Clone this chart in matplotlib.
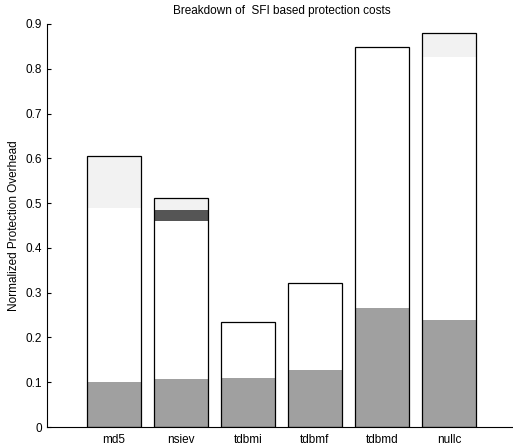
import numpy as np
import matplotlib.pyplot as plt

plt.rcParams['font.family'] = ['Liberation Sans', 'DejaVu Sans']

# per-benchmark cost components (normalized), stacked bottom to top
benchmarks = ['md5', 'nsiev', 'tdbmi', 'tdbmf', 'tdbmd', 'nullc']
base_cost = [0.101, 0.107, 0.110, 0.128, 0.265, 0.240]
check_cost = [0.388, 0.352, 0.125, 0.193, 0.583, 0.587]
guard_cost = [0.0, 0.026, 0.0, 0.0, 0.0, 0.0]
extra_cost = [0.116, 0.026, 0.0, 0.0, 0.0, 0.052]

x = np.arange(1, len(benchmarks) + 1)
width = 0.8

fig = plt.figure(figsize=(5.13, 4.48), dpi=100)
ax = fig.add_axes([47 / 513, 21 / 448, 469 / 513, 403 / 448])

bottom = np.zeros(len(benchmarks))
for vals, col in [(base_cost, '#a0a0a0'), (check_cost, '#ffffff'),
                  (guard_cost, '#555555'), (extra_cost, '#f2f2f2')]:
    vals = np.array(vals)
    ax.bar(x, vals, width, bottom=bottom, color=col, edgecolor='none', zorder=2)
    bottom += vals

# outline around each full bar
ax.bar(x, bottom, width, fill=False, edgecolor='black', linewidth=0.9, zorder=3)

ax.set_xlim(0, 7)
ax.set_ylim(0, 0.9)
ax.set_yticks(np.arange(0, 0.91, 0.1))
ax.set_yticklabels(['0', '0.1', '0.2', '0.3', '0.4', '0.5', '0.6', '0.7', '0.8', '0.9'])
ax.set_xticks(x)
ax.set_xticklabels(benchmarks)
ax.tick_params(axis='both', direction='in', labelsize=8.5, length=3, width=0.8)
ax.tick_params(axis='x', length=0, pad=5)
ax.spines['top'].set_visible(False)
ax.spines['right'].set_visible(False)
ax.spines['left'].set_linewidth(0.8)
ax.spines['bottom'].set_linewidth(0.8)

ax.set_ylabel('Normalized Protection Overhead', fontsize=8.5, labelpad=4)
ax.set_title('Breakdown of  SFI based protection costs', fontsize=8.5, pad=7)

fig.savefig('out.png', dpi=100)
